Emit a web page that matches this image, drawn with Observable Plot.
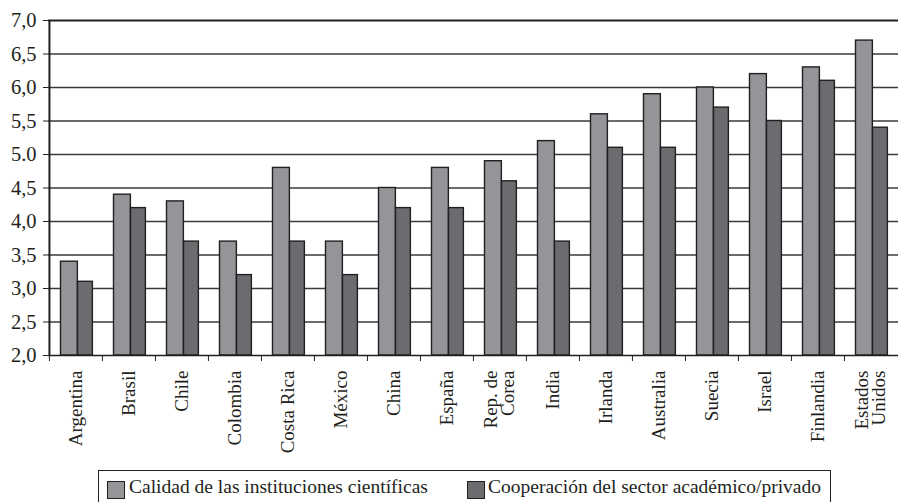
<!DOCTYPE html>
<html>
<head>
<meta charset="utf-8">
<script src="https://cdn.jsdelivr.net/npm/d3@7"></script>
<script src="https://cdn.jsdelivr.net/npm/@observablehq/plot@0.6"></script>
<style>
  html, body { margin: 0; padding: 0; background: #fff; }
  #wrap { position: relative; width: 898px; height: 502px; overflow: hidden; font-family: "Liberation Serif", "Times New Roman", serif; }
  #legend { position: absolute; left: 98px; top: 470px; width: 733px; height: 44px; border: 1px solid #231f20; box-sizing: border-box; }
  .item { position: absolute; top: 0; height: 32px; font-size: 19.5px; color: #231f20; }
  .sw { position: absolute; top: 10px; width: 16px; height: 16px; border: 1px solid #231f20; }
  .lbl { position: absolute; top: 6px; white-space: nowrap; line-height: 20px; }
</style>
</head>
<body>
<div id="wrap">
  <div id="chart"></div>
  <div id="legend"></div>
</div>
<script>
const countries = ["Argentina", "Brasil", "Chile", "Colombia", "Costa Rica", "México", "China", "España",
  "Rep. de\nCorea", "India", "Irlanda", "Australia", "Suecia", "Israel", "Finlandia", "Estados\nUnidos"];
const calidad = [3.4, 4.4, 4.3, 3.7, 4.8, 3.7, 4.5, 4.8, 4.9, 5.2, 5.6, 5.9, 6.0, 6.2, 6.3, 6.7];
const cooperacion = [3.1, 4.2, 3.7, 3.2, 3.7, 3.2, 4.2, 4.2, 4.6, 3.7, 5.1, 5.1, 5.7, 5.5, 6.1, 5.4];
const seriesNames = ["Calidad de las instituciones científicas", "Cooperación del sector académico/privado"];
const seriesColors = ["#939598", "#6b6c70"];
const yTicks = [2.0, 2.5, 3.0, 3.5, 4.0, 4.5, 5.0, 5.5, 6.0, 6.5, 7.0];
const yTickLabels = ["2,0", "2,5", "3,0", "3,5", "4,0", "4,5", "5.0", "5,5", "6,0", "6,5", "7,0"];

const W = 898, H = 462, ML = 48, MR = 0, MT = 20, MB = 107;
const bw = (W - ML - MR) / countries.length;
const yLabelMap = new Map(yTicks.map((v, i) => [v, yTickLabels[i]]));

const rowsA = countries.map((c, i) => ({country: c, value: calidad[i]}));
const rowsB = countries.map((c, i) => ({country: c, value: cooperacion[i]}));
const ink = "#231f20";
const serif = "'Liberation Serif', 'Times New Roman', serif";

const chart = Plot.plot({
  width: W, height: H,
  marginLeft: ML, marginRight: MR, marginTop: MT, marginBottom: MB,
  style: {fontFamily: serif, color: ink, background: "#fff"},
  x: {domain: countries, padding: 0, label: null},
  y: {domain: [2, 7], label: null},
  marks: [
    Plot.ruleY(yTicks.filter(v => v > 2 && v < 7), {y: d => d, stroke: "#3a3a3a", strokeWidth: 1.3}),
    Plot.barY(rowsA, {x: "country", y1: 2, y2: "value", fill: seriesColors[0], stroke: ink, strokeWidth: 1.4, insetLeft: 11.5, insetRight: bw - 28.5}),
    Plot.barY(rowsB, {x: "country", y1: 2, y2: "value", fill: seriesColors[1], stroke: ink, strokeWidth: 1.4, insetLeft: 28.5, insetRight: bw - 43.5}),
    Plot.ruleY([7], {y: d => d, stroke: ink, strokeWidth: 2}),
    Plot.ruleY([2], {y: d => d, stroke: ink, strokeWidth: 1.5}),
    Plot.ruleX([countries[0]], {x: d => d, dx: -bw / 2, y1: 2, y2: 7, stroke: ink, strokeWidth: 2}),
    Plot.axisY({ticks: yTicks, tickFormat: d => yLabelMap.get(d), tickSize: 5, tickPadding: 7, fontSize: 20.5, fontFamily: serif, stroke: ink, fill: ink, label: null}),
    Plot.axisX({tickSize: 6, dx: -bw / 2, tickFormat: () => "", stroke: ink, label: null}),
    Plot.axisX({tickSize: 0, tickPadding: 15, tickRotate: -90, fontSize: 19, fontFamily: serif, fill: ink, lineHeight: 0.92, label: null})
  ]
});
document.getElementById("chart").appendChild(chart);

const legend = document.getElementById("legend");
const swX = [8, 368], txX = [30, 389];
seriesNames.forEach((name, i) => {
  const sw = document.createElement("div");
  sw.className = "sw";
  sw.style.left = swX[i] + "px";
  sw.style.background = seriesColors[i];
  legend.appendChild(sw);
  const t = document.createElement("div");
  t.className = "item lbl";
  t.style.left = txX[i] + "px";
  t.textContent = name;
  legend.appendChild(t);
});
</script>
</body>
</html>
